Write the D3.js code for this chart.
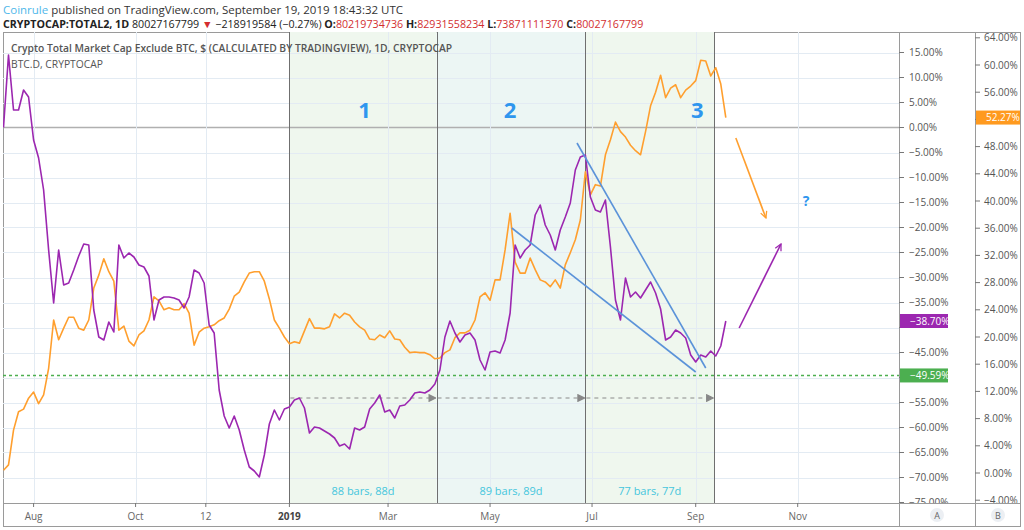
<!DOCTYPE html>
<html>
<head>
<meta charset="utf-8">
<script src="https://cdn.jsdelivr.net/npm/d3@7"></script>
<style>
  body { margin: 0; background: #fff; }
  svg { display: block; font-family: "Open Sans", sans-serif; }
</style>
</head>
<body>
<svg id="chart" width="1024" height="530"></svg>
<script>
// daily chart, one reading every 3 days starting Jul 14 2018
const startDate = "2018-07-14";
const stepDays = 3;

// TOTAL2 (% change, left scale A)
const total2Pct = [0.0, 14.5, 3.5, 3.5, 7.5, 6.1, -2.5, -6.1, -12.5, -24.5,
  -35.1, -24.5, -31.5, -31.1, -28.5, -25.7, -23.3, -23.5, -36.5, -41.9,
  -42.5, -38.9, -40.9, -23.5, -26.1, -25.1, -25.9, -27.5, -27.9, -29.7,
  -38.5, -34.5, -33.9, -33.9, -34.1, -34.5, -36.1, -33.9, -28.5, -29.1,
  -31.1, -39.5, -41.1, -52.5, -57.7, -60.1, -57.7, -60.5, -64.5, -67.9,
  -68.7, -69.9, -65.5, -59.3, -56.5, -58.5, -56.3, -55.9, -54.5, -54.1,
  -56.1, -61.1, -59.9, -60.1, -60.7, -61.3, -62.1, -63.7, -63.3, -64.3,
  -60.1, -60.5, -59.9, -56.3, -55.1, -53.5, -56.9, -56.5, -58.1, -55.7,
  -55.5, -54.5, -53.1, -52.9, -53.1, -52.5, -51.3, -48.5, -41.9, -38.7,
  -41.1, -42.9, -41.5, -41.1, -42.5, -46.5, -48.5, -44.9, -44.7, -45.1,
  -42.5, -37.1, -23.5, -26.1, -24.5, -23.5, -17.5, -15.5, -19.5, -21.5,
  -24.5, -20.5, -17.9, -15.1, -8.5, -5.9, -5.5, -13.9, -16.5, -16.9,
  -14.5, -23.9, -34.5, -38.5, -30.1, -33.9, -32.9, -34.1, -32.5, -30.9,
  -33.1, -36.3, -42.5, -41.9, -40.5, -41.1, -42.1, -45.5, -46.9, -45.5,
  -45.9, -44.7, -45.7, -43.7, -38.7];

// BTC.D (dominance %, right scale B)
const btcDominance = [0.4, 1.2, 6.3, 9.0, 9.4, 11.0, 11.9, 10.2, 11.5, 15.4,
  22.5, 19.6, 21.3, 22.9, 22.9, 21.3, 21.0, 22.5, 27.2, 29.1,
  31.5, 29.6, 28.2, 21.0, 21.6, 19.4, 18.7, 20.3, 20.9, 22.5,
  25.9, 25.3, 24.0, 24.3, 24.0, 24.0, 24.9, 23.5, 18.8, 20.7,
  21.3, 21.5, 21.8, 22.4, 22.8, 24.1, 26.0, 26.6, 28.1, 29.4,
  29.6, 29.6, 28.2, 25.6, 22.5, 21.3, 20.0, 19.0, 19.3, 19.1,
  20.9, 22.7, 21.3, 21.3, 21.2, 21.5, 23.4, 22.8, 23.5, 23.2,
  22.2, 21.5, 21.0, 19.7, 19.6, 20.3, 19.9, 20.9, 19.7, 19.6,
  18.5, 17.7, 17.8, 17.7, 17.7, 17.4, 16.8, 16.9, 17.7, 18.1,
  19.9, 20.6, 20.6, 21.0, 22.5, 25.9, 26.5, 25.4, 28.4, 28.4,
  32.8, 38.2, 31.0, 29.4, 29.4, 31.6, 29.9, 28.4, 28.1, 27.4,
  28.4, 27.2, 30.6, 32.4, 34.3, 37.2, 44.3, 40.9, 42.4, 42.2,
  46.8, 49.0, 51.6, 50.2, 49.4, 48.2, 47.4, 46.8, 50.2, 54.0,
  56.0, 58.5, 55.2, 56.6, 57.1, 55.2, 56.3, 56.9, 57.7, 60.7,
  60.6, 58.4, 59.6, 57.2, 52.27];

const leftTicks = [15, 10, 5, 0, -5, -10, -15, -20, -25, -30, -35, -40, -45, -50, -55, -60, -65, -70, -75];
const rightTicks = [64, 60, 56, 52, 48, 44, 40, 36, 32, 28, 24, 20, 16, 12, 8, 4, 0, -4];
const monthTicks = ["2018-08-01", "2018-10-01", "2018-11-12", "2019-01-01", "2019-03-01", "2019-05-01", "2019-07-01", "2019-09-01", "2019-11-01"];
const monthLabels = ["Aug", "Oct", "12", "2019", "Mar", "May", "Jul", "Sep", "Nov"];

const phaseEdges = ["2019-01-01", "2019-03-30", "2019-06-27", "2019-09-12"];
const phaseNames = ["1", "2", "3"];
const phaseNameDates = ["2019-02-15", "2019-05-13", "2019-09-02"];
const phaseBars = ["88 bars, 88d", "89 bars, 89d", "77 bars, 77d"];
const supportLevel = -49.59;
const lastTotal2 = -38.70;
const lastDominance = 52.27;

// hand drawn annotations (date, value on scale A)
const wedgeLower = [["2019-05-14", -20.1], ["2019-09-01", -48.9]];
const wedgeUpper = [["2019-06-22", -3.1], ["2019-09-07", -48.1]];
const arrowDown = [["2019-09-25", -2.1], ["2019-10-13", -18.1]];
const arrowUp = [["2019-09-27", -40.1], ["2019-10-22", -23.3]];
const questionMark = ["2019-11-06", -14.7];

const parse = d3.utcParse("%Y-%m-%d");
const start = parse(startDate);

const plot = { left: 3, right: 899, top: 32, bottom: 503 };
const colOrange = "#ff9f2e", colPurple = "#9c27b0", colBlue = "#5b93d9";

const svg = d3.select("#chart");

const x = d3.scaleUtc()
  .domain([Date.UTC(2018, 6, 13, 17), Date.UTC(2019, 11, 31, 14)])
  .range([plot.left, plot.right]);
const yA = d3.scaleLinear().domain([-75, 15]).range([502.5, 52.5]);
const yB = d3.scaleLinear().domain([-4, 64]).range([500.2, 37.8]);

const fmt = v => (v < 0 ? "\u2212" : "") + Math.abs(v).toFixed(2) + "%";

// header
const head1 = svg.append("text").attr("x", 3).attr("y", 14).style("font-size", "11.5px").attr("fill", "#333");
head1.append("tspan").attr("fill", "#4fb8ea").text("Coinrule");
head1.append("tspan").text(" published on TradingView.com, September 19, 2019 18:43:32 UTC");

const head2 = svg.append("text").attr("x", 3).attr("y", 28).style("font-size", "10.7px").attr("fill", "#222");
head2.append("tspan").attr("font-weight", "bold").text("CRYPTOCAP:TOTAL2, 1D");
head2.append("tspan").text(" 80027167799 ");
head2.append("tspan").attr("fill", "#d32f2f").text("\u25BC");
head2.append("tspan").text(" \u2212218919584 (\u22120.27%) ");
[["O:", "80219734736"], ["H:", "82931558234"], ["L:", "73871111370"], ["C:", "80027167799"]].forEach(([k, v], i) => {
  head2.append("tspan").attr("font-weight", "bold").text((i ? " " : "") + k);
  head2.append("tspan").attr("fill", "#d32f2f").text(v);
});

// frame
svg.append("rect").attr("x", 3.5).attr("y", 32.5).attr("width", 1017).attr("height", 494)
  .attr("fill", "none").attr("stroke", "#9a9a9a");

svg.append("defs").append("clipPath").attr("id", "plotClip")
  .append("rect").attr("x", plot.left).attr("y", plot.top)
  .attr("width", plot.right - plot.left).attr("height", plot.bottom - plot.top);

const g = svg.append("g").attr("clip-path", "url(#plotClip)");

// phase bands
const bandFills = ["#eff7ee", "#ecf6f4", "#eff7ee"];
phaseNames.forEach((n, i) => {
  const x0 = x(parse(phaseEdges[i])), x1 = x(parse(phaseEdges[i + 1]));
  g.append("rect").attr("x", x0).attr("y", plot.top).attr("width", x1 - x0)
    .attr("height", plot.bottom - plot.top).attr("fill", bandFills[i]);
});

// grid
g.selectAll(".hgrid").data(leftTicks).enter().append("line")
  .attr("x1", plot.left).attr("x2", plot.right)
  .attr("y1", d => Math.round(yA(d)) + 0.5).attr("y2", d => Math.round(yA(d)) + 0.5)
  .attr("stroke", d => d === 0 ? "#b0b0b0" : "#e3ebf3").attr("stroke-width", d => d === 0 ? 1.3 : 1);
g.selectAll(".vgrid").data(monthTicks).enter().append("line")
  .attr("x1", d => Math.round(x(parse(d))) + 0.5).attr("x2", d => Math.round(x(parse(d))) + 0.5)
  .attr("y1", plot.top).attr("y2", plot.bottom)
  .attr("stroke", "#e3ebf3");

// band edges
g.selectAll(".edge").data(phaseEdges).enter().append("line")
  .attr("x1", d => Math.round(x(parse(d))) + 0.5).attr("x2", d => Math.round(x(parse(d))) + 0.5)
  .attr("y1", plot.top).attr("y2", plot.bottom)
  .attr("stroke", "#6f6f6f").attr("stroke-width", 1);

// support line
g.append("line").attr("x1", plot.left).attr("x2", plot.right)
  .attr("y1", yA(supportLevel)).attr("y2", yA(supportLevel))
  .attr("stroke", "#4caf50").attr("stroke-width", 1.6).attr("stroke-dasharray", "3,3");

// markers
const defs = svg.select("defs");
function addMarker(id, color, filled) {
  defs.append("marker").attr("id", id).attr("viewBox", "0 0 10 10")
    .attr("refX", 9).attr("refY", 5).attr("markerWidth", 8).attr("markerHeight", 8)
    .attr("markerUnits", "userSpaceOnUse").attr("orient", "auto")
    .append("path").attr("d", filled ? "M1,1 L9,5 L1,9 Z" : "M1,1 L9,5 L1,9")
    .attr("fill", filled ? color : "none").attr("stroke", color).attr("stroke-width", 1.6);
}
addMarker("mOrange", colOrange, false);
addMarker("mPurple", colPurple, false);
addMarker("mGray", "#888", true);

// bars/duration measurements
const measureLevel = -54.1;
phaseNames.forEach((n, i) => {
  const x0 = x(parse(phaseEdges[i])), x1 = x(parse(phaseEdges[i + 1]));
  g.append("line").attr("x1", x0 + 1).attr("x2", x1 - 1)
    .attr("y1", yA(measureLevel)).attr("y2", yA(measureLevel))
    .attr("stroke", "#8a8a8a").attr("stroke-dasharray", "4,4").attr("marker-end", "url(#mGray)");
  g.append("text").attr("x", (x0 + x1) / 2).attr("y", 495).attr("text-anchor", "middle")
    .attr("fill", "#45c6dd").style("font-size", "11px").text(phaseBars[i]);
  g.append("text").attr("x", x(parse(phaseNameDates[i]))).attr("y", yA(3.5) + 8)
    .attr("text-anchor", "middle").attr("fill", "#2f96ee")
    .style("font-size", "22px").style("font-weight", "bold").text(n);
});

// series
const dates = total2Pct.map((d, i) => d3.utcDay.offset(start, i * stepDays));
const lineA = d3.line().x((d, i) => x(dates[i])).y(d => yA(d));
const lineB = d3.line().x((d, i) => x(dates[i])).y(d => yB(d));

g.append("path").datum(btcDominance).attr("d", lineB)
  .attr("fill", "none").attr("stroke", colOrange).attr("stroke-width", 1.6).attr("stroke-linejoin", "round");
g.append("path").datum(total2Pct).attr("d", lineA)
  .attr("fill", "none").attr("stroke", colPurple).attr("stroke-width", 1.6).attr("stroke-linejoin", "round");

// wedge
const annLine = d3.line().x(d => x(parse(d[0]))).y(d => yA(d[1]));
[wedgeLower, wedgeUpper].forEach(w => {
  g.append("path").attr("d", annLine(w)).attr("stroke", colBlue).attr("stroke-width", 1.6).attr("fill", "none");
});

// outlook arrows
g.append("path").attr("d", annLine(arrowDown)).attr("stroke", colOrange).attr("stroke-width", 1.6)
  .attr("fill", "none").attr("marker-end", "url(#mOrange)");
g.append("path").attr("d", annLine(arrowUp)).attr("stroke", colPurple).attr("stroke-width", 1.6)
  .attr("fill", "none").attr("marker-end", "url(#mPurple)");
g.append("text").attr("x", x(parse(questionMark[0]))).attr("y", yA(questionMark[1]) + 5)
  .attr("text-anchor", "middle").attr("fill", "#2f96ee")
  .style("font-size", "14px").style("font-weight", "bold").text("?");

// legend
g.append("text").attr("x", 11).attr("y", 52).attr("fill", "#555")
  .style("font-size", "10.3px").style("font-weight", "600")
  .text("Crypto Total Market Cap Exclude BTC, $ (CALCULATED BY TRADINGVIEW), 1D, CRYPTOCAP");
g.append("text").attr("x", 11).attr("y", 68).attr("fill", "#555")
  .style("font-size", "10.3px").text("BTC.D, CRYPTOCAP");

// right scales
svg.append("line").attr("x1", plot.right + 0.5).attr("x2", plot.right + 0.5).attr("y1", 32).attr("y2", 527).attr("stroke", "#9a9a9a");
svg.append("line").attr("x1", 975.5).attr("x2", 975.5).attr("y1", 32).attr("y2", 527).attr("stroke", "#9a9a9a");
svg.append("line").attr("x1", 3).attr("x2", 1021).attr("y1", plot.bottom + 0.5).attr("y2", plot.bottom + 0.5).attr("stroke", "#9a9a9a");

svg.append("clipPath").attr("id", "axisClip").append("rect")
  .attr("x", plot.right).attr("y", plot.top).attr("width", 130).attr("height", plot.bottom - plot.top);

const axA = svg.append("g").attr("clip-path", "url(#axisClip)");
axA.selectAll(".ta").data(leftTicks).enter().append("line")
  .attr("x1", plot.right).attr("x2", plot.right + 5)
  .attr("y1", d => yA(d)).attr("y2", d => yA(d)).attr("stroke", "#777");
// labels hidden behind the last-value tags are left out
axA.selectAll(".la").data(leftTicks.filter(d => Math.abs(yA(d) - yA(lastTotal2)) > 8 && Math.abs(yA(d) - yA(supportLevel)) > 8))
  .enter().append("text")
  .attr("x", plot.right + 10).attr("y", d => yA(d) + 3.5)
  .attr("fill", "#555").style("font-size", "10px").text(d => fmt(d));
axA.selectAll(".tb").data(rightTicks).enter().append("line")
  .attr("x1", 975).attr("x2", 980)
  .attr("y1", d => yB(d)).attr("y2", d => yB(d)).attr("stroke", "#777");
axA.selectAll(".lb").data(rightTicks.filter(d => Math.abs(yB(d) - yB(lastDominance)) > 8))
  .enter().append("text")
  .attr("x", 984).attr("y", d => yB(d) + 3.5)
  .attr("fill", "#555").style("font-size", "10px").text(d => fmt(d));

// last value labels
function priceTag(x0, w, yv, color, label) {
  svg.append("rect").attr("x", x0).attr("y", yv - 7).attr("width", w).attr("height", 14).attr("fill", color);
  svg.append("text").attr("x", x0 + 10).attr("y", yv + 3.5).attr("fill", "#fff")
    .style("font-size", "10px").text(label);
}
priceTag(plot.right + 1, 48, yA(lastTotal2), colPurple, fmt(lastTotal2));
priceTag(plot.right + 1, 48, yA(supportLevel), "#4caf50", fmt(supportLevel));
priceTag(976, 44, yB(lastDominance), "#ff9a1f", fmt(lastDominance));

// time axis
const axX = svg.append("g");
axX.selectAll(".tx").data(monthTicks).enter().append("line")
  .attr("x1", d => x(parse(d))).attr("x2", d => x(parse(d)))
  .attr("y1", plot.bottom).attr("y2", plot.bottom + 4).attr("stroke", "#777");
axX.selectAll(".lx").data(monthLabels).enter().append("text")
  .attr("x", (d, i) => x(parse(monthTicks[i]))).attr("y", 520)
  .attr("text-anchor", "middle").attr("fill", (d, i) => i === 3 ? "#444" : "#666")
  .style("font-size", "10px").style("font-weight", (d, i) => i === 3 ? "bold" : "normal")
  .text(d => d);

// scale corner buttons
[["A", 937], ["B", 998]].forEach(([t, cx]) => {
  svg.append("circle").attr("cx", cx).attr("cy", 515).attr("r", 7).attr("fill", "#eceff3");
  svg.append("text").attr("x", cx).attr("y", 518.5).attr("text-anchor", "middle")
    .attr("fill", "#666").style("font-size", "9px").text(t);
});
</script>
</body>
</html>
